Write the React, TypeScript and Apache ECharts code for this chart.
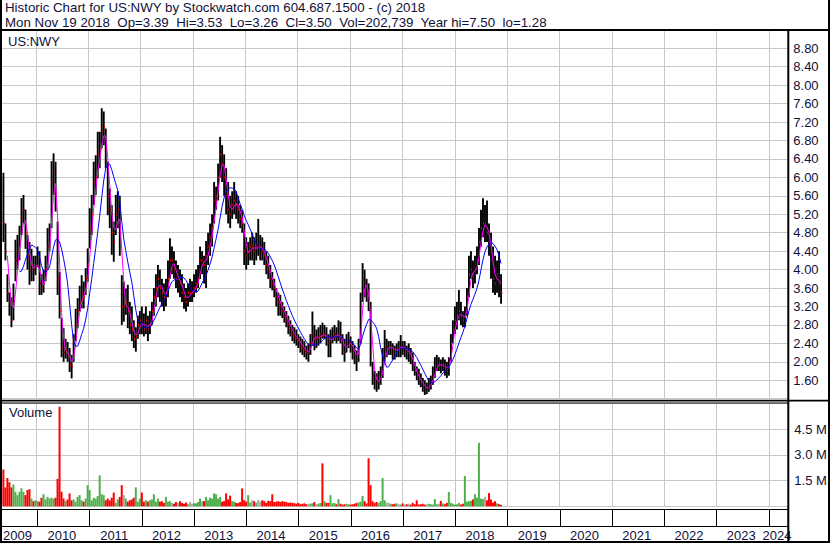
import React, { useEffect, useRef } from "react";
import * as echarts from "echarts";

// ---- data (bi-weekly bars, last one ends Mon Nov 19 2018) ----
const LAST_BAR = "2018-11-19";
const STEP_DAYS = 14;

const highs = [
  6.1, 5.0, 3.9, 3.5, 3.4, 3.7, 4.65, 4.75, 4.95, 5.55, 5.62, 5.3, 4.75, 4.6, 4.45, 4.3, 4.3, 4.5, 4.4, 3.9,
  4.0, 4.3, 4.9, 5.0, 6.35, 6.52, 6.34, 5.04, 3.95, 2.95, 2.73, 2.5, 2.43, 2.3, 2.15, 2.6, 3.15, 3.38, 3.65, 3.88,
  3.74, 4.03, 4.46, 5.33, 5.62, 6.34, 6.48, 6.99, 6.99, 7.5, 7.43, 7.06, 6.34, 5.76, 5.4, 5.04, 5.62, 5.7, 5.6, 3.88,
  3.74, 3.59, 3.67, 3.3, 3.2, 2.9, 2.75, 3.0, 3.1, 3.2, 3.05, 3.2, 3.0, 3.1, 3.3, 3.6, 3.9, 4.1, 4.0, 3.8,
  3.7, 3.8, 4.2, 4.68, 4.5, 4.4, 4.2, 4.1, 4.0, 3.9, 3.7, 3.6, 3.7, 3.8, 3.75, 3.9, 4.0, 4.1, 4.5, 4.4,
  4.3, 4.62, 4.8, 5.0, 5.2, 5.9, 5.8, 6.3, 6.88, 6.7, 6.5, 6.2, 5.9, 5.6, 5.7, 5.9, 5.7, 5.6, 5.4, 5.3,
  5.0, 4.7, 4.6, 4.7, 4.8, 4.7, 4.8, 5.1, 4.75, 4.7, 4.6, 4.4, 4.3, 4.1, 3.95, 3.8, 3.6, 3.5, 3.45, 3.3,
  3.2, 3.1, 3.0, 2.9, 2.8, 2.75, 2.7, 2.6, 2.55, 2.5, 2.45, 2.35, 2.4, 2.6, 3.09, 2.8, 2.7, 2.75, 2.8, 2.85,
  2.8, 2.75, 2.6, 2.7, 2.75, 2.8, 2.75, 2.9, 2.87, 2.6, 2.5, 2.6, 2.65, 2.55, 2.45, 2.35, 2.25, 2.5, 3.5, 4.14,
  4.0, 3.8, 3.7, 3.3, 2.0, 1.8, 1.75, 1.8, 1.9, 2.3, 2.69, 2.5, 2.45, 2.45, 2.4, 2.35, 2.4, 2.45, 2.58, 2.45,
  2.45, 2.35, 2.4, 2.3, 2.2, 2.0, 1.9, 1.85, 1.75, 1.65, 1.6, 1.55, 1.65, 1.7, 1.9, 2.1, 2.15, 2.1, 2.05, 2.1,
  2.05, 2.0, 2.1, 2.6, 2.9, 3.2, 3.3, 3.56, 3.3, 3.1, 3.2, 3.6, 4.3, 4.4, 4.2, 4.3, 4.5, 4.9, 5.3, 5.55,
  5.4, 5.5, 5.0, 4.8, 4.5, 4.3, 4.2, 4.4, 3.9,
];

const lows = [
  4.6, 4.2, 3.3, 3.0, 2.75, 2.9, 3.75, 4.0, 4.2, 4.75, 5.0, 4.45, 4.0, 3.67, 3.75, 3.75, 3.88, 4.05, 3.45, 3.45,
  3.5, 3.75, 4.0, 4.4, 4.9, 5.62, 5.26, 3.45, 2.94, 2.1, 2.0, 2.07, 2.0, 1.78, 1.64, 2.0, 2.45, 2.73, 3.09, 3.16,
  3.16, 3.45, 3.74, 4.46, 4.75, 5.4, 5.62, 5.98, 6.2, 6.63, 6.7, 6.2, 5.18, 4.9, 4.32, 4.17, 4.75, 4.9, 4.3, 2.8,
  2.87, 3.02, 2.73, 2.6, 2.45, 2.3, 2.22, 2.5, 2.6, 2.6, 2.55, 2.6, 2.45, 2.6, 2.8, 3.0, 3.2, 3.4, 3.3, 3.2,
  3.1, 3.2, 3.4, 3.8, 3.9, 3.8, 3.6, 3.5, 3.4, 3.3, 3.15, 3.09, 3.2, 3.3, 3.3, 3.4, 3.5, 3.6, 3.8, 3.9,
  3.7, 3.6, 4.1, 4.3, 4.5, 5.0, 5.3, 5.5, 6.0, 5.9, 5.6, 5.2, 5.0, 4.9, 5.1, 5.2, 5.1, 5.0, 4.9, 4.8,
  4.1, 4.0, 4.1, 4.2, 4.2, 4.1, 4.2, 4.3, 4.2, 4.2, 4.1, 3.9, 3.8, 3.6, 3.55, 3.4, 3.2, 3.0, 3.0, 2.95,
  2.85, 2.75, 2.6, 2.55, 2.45, 2.4, 2.35, 2.3, 2.2, 2.15, 2.1, 2.05, 2.0, 2.15, 2.35, 2.25, 2.3, 2.35, 2.4, 2.5,
  2.5, 2.35, 2.1, 2.1, 2.4, 2.45, 2.4, 2.45, 2.4, 2.15, 2.0, 2.2, 2.3, 2.2, 2.05, 1.95, 1.8, 2.0, 2.4, 3.3,
  3.4, 3.3, 3.1, 1.9, 1.5, 1.4, 1.35, 1.4, 1.5, 1.65, 2.0, 2.1, 2.15, 2.15, 2.05, 2.05, 2.1, 2.1, 2.1, 2.15,
  2.1, 2.05, 2.0, 1.95, 1.8, 1.7, 1.6, 1.5, 1.45, 1.35, 1.28, 1.3, 1.35, 1.4, 1.5, 1.65, 1.8, 1.8, 1.75, 1.8,
  1.7, 1.65, 1.7, 2.0, 2.4, 2.6, 2.7, 2.9, 2.8, 2.75, 2.75, 3.0, 3.4, 3.8, 3.6, 3.7, 3.9, 4.1, 4.5, 4.7,
  4.6, 4.6, 4.3, 3.8, 3.5, 3.45, 3.5, 3.4, 3.26,
];

const closes = [
  5.0, 4.4, 3.5, 3.3, 2.9, 3.3, 4.2, 4.4, 4.6, 5.1, 5.3, 4.8, 4.3, 4.0, 4.1, 4.0, 4.1, 4.2, 3.7, 3.6,
  3.7, 4.0, 4.5, 4.7, 5.9, 6.1, 5.6, 3.8, 3.1, 2.3, 2.2, 2.25, 2.15, 1.95, 1.9, 2.4, 2.8, 3.1, 3.3, 3.5,
  3.4, 3.8, 4.1, 4.9, 5.2, 5.9, 6.0, 6.5, 6.6, 7.0, 7.1, 6.6, 5.6, 5.3, 4.8, 4.6, 5.2, 5.3, 4.8, 3.2,
  3.2, 3.3, 3.1, 2.8, 2.7, 2.5, 2.55, 2.8, 2.9, 2.8, 2.7, 2.9, 2.7, 2.8, 3.1, 3.4, 3.6, 3.8, 3.6, 3.5,
  3.4, 3.5, 3.8, 4.2, 4.2, 4.0, 3.8, 3.8, 3.7, 3.5, 3.4, 3.3, 3.5, 3.5, 3.5, 3.6, 3.7, 3.8, 4.2, 4.2,
  4.1, 4.3, 4.5, 4.7, 4.9, 5.5, 5.6, 6.0, 6.5, 6.3, 6.0, 5.6, 5.3, 5.2, 5.4, 5.5, 5.4, 5.3, 5.1, 5.0,
  4.4, 4.3, 4.4, 4.5, 4.5, 4.4, 4.5, 4.5, 4.5, 4.4, 4.3, 4.1, 4.0, 3.8, 3.7, 3.6, 3.4, 3.3, 3.2, 3.1,
  3.0, 2.9, 2.8, 2.7, 2.6, 2.55, 2.5, 2.45, 2.35, 2.3, 2.25, 2.2, 2.2, 2.4, 2.6, 2.5, 2.5, 2.55, 2.6, 2.55,
  2.6, 2.55, 2.4, 2.5, 2.55, 2.6, 2.55, 2.6, 2.5, 2.35, 2.2, 2.4, 2.45, 2.35, 2.25, 2.15, 2.05, 2.3, 3.2, 3.8,
  3.7, 3.5, 3.3, 2.2, 1.7, 1.6, 1.55, 1.6, 1.7, 2.0, 2.3, 2.3, 2.3, 2.35, 2.25, 2.2, 2.3, 2.3, 2.35, 2.3,
  2.3, 2.2, 2.2, 2.1, 1.9, 1.8, 1.7, 1.6, 1.55, 1.5, 1.4, 1.4, 1.5, 1.55, 1.7, 1.9, 1.95, 1.95, 1.9, 1.95,
  1.85, 1.8, 1.95, 2.4, 2.7, 2.9, 3.0, 3.1, 3.0, 2.9, 3.0, 3.4, 3.9, 4.0, 3.9, 4.0, 4.2, 4.6, 4.9, 5.0,
  5.0, 4.8, 4.6, 4.2, 3.8, 3.7, 3.9, 3.7, 3.5,
];

// volume in millions of shares
const volumes = [
  2.15, 1.1, 1.65, 1.4, 1.1, 1.27, 0.85, 0.65, 0.85, 1.05, 0.85, 0.65, 0.95, 1.0, 0.45, 0.3, 0.35, 0.3, 0.27, 0.5,
  0.7, 0.4, 0.55, 0.45, 0.5, 0.45, 0.5, 1.6, 5.8, 0.85, 0.45, 0.3, 0.4, 0.75, 0.35, 0.4, 0.27, 0.55, 0.65, 0.35,
  0.27, 0.45, 1.23, 0.95, 0.35, 0.5, 0.45, 0.6, 1.8, 0.7, 0.65, 0.35, 0.45, 0.35, 0.5, 0.8, 0.2, 0.4, 0.55, 1.23,
  0.65, 0.45, 0.27, 0.35, 0.4, 0.5, 1.1, 0.27, 0.45, 0.8, 0.27, 0.35, 0.27, 0.35, 0.4, 0.7, 0.27, 0.45, 0.27, 0.3,
  0.2, 0.55, 0.27, 0.3, 0.2, 0.15, 0.25, 0.2, 0.3, 0.2, 0.15, 0.22, 0.12, 0.25, 0.15, 0.18, 0.17, 0.25, 0.45, 0.3,
  0.3, 0.55, 0.35, 0.5, 0.45, 0.75, 0.7, 0.45, 0.55, 0.27, 0.3, 0.75, 0.4, 0.62, 0.3, 0.27, 0.2, 0.18, 0.25, 1.04,
  0.35, 0.27, 0.65, 0.22, 0.35, 0.3, 0.2, 0.37, 0.27, 0.35, 0.3, 0.2, 0.32, 0.3, 0.7, 0.25, 0.27, 0.3, 0.25, 0.3,
  0.27, 0.25, 0.2, 0.22, 0.2, 0.18, 0.15, 0.2, 0.12, 0.15, 0.17, 0.12, 0.15, 0.15, 0.18, 0.25, 0.12, 0.15, 0.2, 2.5,
  0.3, 0.2, 0.2, 0.65, 0.17, 0.2, 0.12, 0.42, 0.15, 0.1, 0.12, 0.15, 0.12, 0.1, 0.12, 0.15, 0.2, 0.22, 0.27, 0.6,
  0.3, 0.17, 2.8, 1.23, 0.3, 0.2, 0.25, 0.2, 0.3, 1.65, 0.35, 0.22, 0.2, 0.15, 0.12, 0.15, 0.17, 0.12, 0.1, 0.17,
  0.1, 0.12, 0.15, 0.1, 0.2, 0.12, 0.35, 0.1, 0.12, 0.15, 0.1, 0.12, 0.15, 0.12, 0.1, 0.42, 0.12, 0.15, 0.32, 0.17,
  0.12, 0.2, 0.83, 0.2, 0.15, 0.1, 0.12, 0.2, 0.1, 0.15, 1.77, 0.27, 0.3, 0.32, 0.4, 0.7, 0.5, 3.7, 0.45, 0.42,
  0.55, 0.35, 0.77, 0.4, 0.22, 0.3, 0.17, 0.12, 0.08,
];

const years = [2009, 2010, 2011, 2012, 2013, 2014, 2015, 2016, 2017, 2018, 2019, 2020, 2021, 2022, 2023, 2024];
const FAST_MA = 3; // bars
const SLOW_MA = 9; // bars

const TITLE_1 = "Historic Chart for US:NWY by Stockwatch.com 604.687.1500 - (c) 2018";
const TITLE_2 = "Mon Nov 19 2018  Op=3.39  Hi=3.53  Lo=3.26  Cl=3.50  Vol=202,739  Year hi=7.50  lo=1.28";

// ---- helpers ----
const DAY = 86400000;
const toYear = (ms: number) => 1970 + ms / (365.2425 * DAY);
const endMs = Date.parse(LAST_BAR + "T00:00:00Z");
const N = closes.length;
const times = closes.map((_, i) => toYear(endMs - (N - 1 - i) * STEP_DAYS * DAY));

function sma(arr: number[], n: number) {
  const out: number[][] = [];
  for (let i = n - 1; i < arr.length; i++) {
    let s = 0;
    for (let k = i - n + 1; k <= i; k++) s += arr[k];
    out.push([times[i], s / n]);
  }
  return out;
}

const FONT = '"Liberation Sans", Arial, sans-serif';
const TXT = "#10103a";
const GRIDC = "#c8c8c8";
const PX_PER_YEAR = 52.35;
const PLOT_W = 788.3;
const X_MIN = 2010 - 36 / PX_PER_YEAR; // Jan 1 2010 sits at x = 36
const X_MAX = X_MIN + PLOT_W / PX_PER_YEAR;

export default function App() {
  const ref = useRef<HTMLDivElement>(null);
  useEffect(() => {
    if (!ref.current) return;
    const chart = echarts.init(ref.current, undefined, { renderer: "svg" });

    const ohlc = times.map((t, i) => [t, highs[i], lows[i], closes[i]]);
    const vol = times.map((t, i) => {
      const d = i === 0 ? -1 : Math.sign(closes[i] - closes[i - 1]);
      return [t, volumes[i], d];
    });

    const xBase = (grid: number) => ({
      gridIndex: grid,
      type: "value" as const,
      min: X_MIN,
      max: X_MAX,
      splitNumber: 15,
      minInterval: 1,
      maxInterval: 1,
      axisLine: { show: false },
      axisTick: { show: false },
      axisLabel: { show: false },
      splitLine: { show: true, lineStyle: { color: GRIDC, width: 1 } },
    });

    const labelPos = years.map((y) => (y === 2009 ? 2009.62 : y === 2024 ? 2024.155 : y + 0.47));

    chart.setOption({
      animation: false,
      backgroundColor: "#ffffff",
      grid: [
        { left: 0, width: PLOT_W, top: 29.86, height: 368.84 },
        { left: 0, width: PLOT_W, top: 403.3, height: 103 },
        { left: 0, width: PLOT_W, top: 509.5, height: 17, show: true, borderColor: "#000", borderWidth: 1 },
      ],
      xAxis: [
        xBase(0),
        xBase(1),
        {
          ...xBase(2),
          splitLine: { show: true, lineStyle: { color: "#000", width: 1 } },
          axisLine: { show: true, lineStyle: { color: "#000", width: 1 } },
          axisLabel: {
            show: true,
            customValues: labelPos,
            formatter: (v: number) => String(Math.floor(v + 1e-6)),
            margin: 2,
            fontSize: 13,
            fontFamily: FONT,
            color: TXT,
          },
        },
      ],
      yAxis: [
        {
          gridIndex: 0,
          type: "value",
          position: "right",
          min: 1.2,
          max: 9.2,
          interval: 0.4,
          axisLine: { show: false },
          axisTick: { show: false },
          splitLine: { show: true, lineStyle: { color: GRIDC, width: 1 } },
          axisLabel: {
            margin: 5,
            fontSize: 13,
            fontFamily: FONT,
            color: TXT,
            formatter: (v: number) => (v < 1.5 || v > 9.0 ? "" : v.toFixed(2)),
          },
        },
        {
          gridIndex: 1,
          type: "value",
          position: "right",
          min: 0,
          max: 6,
          interval: 1.5,
          axisLine: { show: false },
          axisTick: { show: false },
          splitLine: { show: true, lineStyle: { color: GRIDC, width: 1 } },
          axisLabel: {
            margin: 6,
            fontSize: 13,
            fontFamily: FONT,
            color: TXT,
            formatter: (v: number) => (v <= 0.01 || v >= 5.99 ? "" : v.toFixed(1) + " M"),
          },
        },
        { gridIndex: 2, type: "value", min: 0, max: 1, show: false },
      ],
      series: [
        {
          type: "custom",
          xAxisIndex: 0,
          yAxisIndex: 0,
          z: 2,
          data: ohlc,
          encode: { x: 0, y: [1, 2, 3] },
          renderItem: (_p: any, api: any) => {
            const t = api.value(0);
            const hi = api.coord([t, api.value(1)]);
            const lo = api.coord([t, api.value(2)]);
            const cl = api.coord([t, api.value(3)]);
            return {
              type: "group",
              children: [
                {
                  type: "rect",
                  shape: { x: hi[0] - 0.9, y: hi[1], width: 1.9, height: Math.max(1, lo[1] - hi[1]) },
                  style: { fill: "#000000" },
                },
                {
                  type: "rect",
                  shape: { x: cl[0] + 0.2, y: cl[1] - 1, width: 1.2, height: 2 },
                  style: { fill: "#ff0000" },
                },
              ],
            };
          },
        },
        {
          type: "line",
          xAxisIndex: 0,
          yAxisIndex: 0,
          z: 3,
          data: sma(closes, FAST_MA),
          showSymbol: false,
          lineStyle: { color: "#ff00ff", width: 1 },
        },
        {
          type: "line",
          xAxisIndex: 0,
          yAxisIndex: 0,
          z: 4,
          data: sma(closes, SLOW_MA),
          showSymbol: false,
          lineStyle: { color: "#0000ff", width: 1 },
        },
        {
          type: "custom",
          xAxisIndex: 1,
          yAxisIndex: 1,
          data: vol,
          encode: { x: 0, y: 1 },
          renderItem: (_p: any, api: any) => {
            const t = api.value(0);
            const top = api.coord([t, api.value(1)]);
            const base = api.coord([t, 0]);
            const d = api.value(2);
            const fill = d > 0 ? "#4cb04c" : d < 0 ? "#ff0000" : "#a8a8a8";
            return {
              type: "rect",
              shape: { x: top[0] - 1, y: top[1], width: 2, height: Math.max(1, base[1] - top[1]) },
              style: { fill },
            };
          },
        },
      ],
      graphic: [
        { type: "rect", z: 100, shape: { x: 0, y: 0, width: 2, height: 543 }, style: { fill: "#000" } },
        { type: "rect", z: 100, shape: { x: 828, y: 0, width: 2, height: 543 }, style: { fill: "#000" } },
        { type: "rect", z: 100, shape: { x: 0, y: 541, width: 830, height: 2 }, style: { fill: "#000" } },
        { type: "rect", z: 100, shape: { x: 0, y: 29, width: 830, height: 2 }, style: { fill: "#000" } },
        { type: "rect", z: 100, shape: { x: 787.3, y: 30, width: 2, height: 513 }, style: { fill: "#000" } },
        { type: "rect", z: 100, shape: { x: 0, y: 399.8, width: 830, height: 1.6 }, style: { fill: "#000" } },
        { type: "rect", z: 100, shape: { x: 0, y: 402.6, width: 788, height: 1 }, style: { fill: "#000" } },
        { type: "text", z: 100, style: { text: TITLE_1, x: 5, y: 1, font: "13.3px " + FONT, fill: TXT, textVerticalAlign: "top" } },
        { type: "text", z: 100, style: { text: TITLE_2, x: 5, y: 16, font: "13.3px " + FONT, fill: TXT, textVerticalAlign: "top" } },
        { type: "text", z: 100, style: { text: "US:NWY", x: 8, y: 35, font: "13px " + FONT, fill: TXT, textVerticalAlign: "top" } },
        { type: "text", z: 100, style: { text: "Volume", x: 9, y: 406, font: "13px " + FONT, fill: TXT, textVerticalAlign: "top" } },
      ],
    });
    return () => chart.dispose();
  }, []);

  return (
    <div
      ref={ref}
      style={{ position: "fixed", left: 0, top: 0, width: 830, height: 543, background: "#fff" }}
    />
  );
}
